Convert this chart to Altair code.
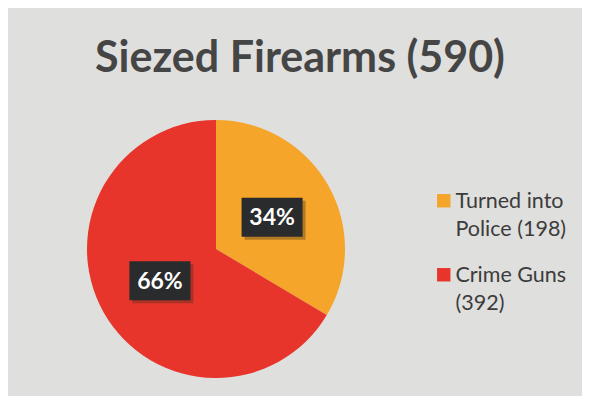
import altair as alt
import pandas as pd

# ---- data ----
categories = ["Turned into Police (198)", "Crime Guns (392)"]
counts = [198, 392]
percent_labels = ["34%", "66%"]
order = [1, 2]
colors = ["#f5a52a", "#e7352b"]

df = pd.DataFrame({
    "category": categories,
    "count": counts,
    "pct": percent_labels,
    "order": order,
})

R = 129  # pie radius in px
VIEW = 2 * R

color_scale = alt.Scale(domain=categories, range=colors)

legend_expr = (
    "datum.label == 'Turned into Police (198)' ? ['Turned into', 'Police (198)'] : "
    "['Crime Guns', '(392)']"
)

base = alt.Chart(df)

pie = base.mark_arc(outerRadius=R, stroke=None).encode(
    theta=alt.Theta("count:Q", stack=True),
    color=alt.Color(
        "category:N",
        scale=color_scale,
        sort=categories,
        legend=alt.Legend(
            title=None,
            orient="none",
            legendX=346,
            legendY=70,
            symbolType="square",
            symbolSize=180,
            symbolStrokeWidth=0,
            labelFont="Lato",
            labelFontSize=21.5,
            labelColor="#3c3c3c",
            labelLimit=300,
            labelExpr=legend_expr,
            labelBaseline="alphabetic",
            labelOffset=1,
            rowPadding=23,
        ),
    ),
    order=alt.Order("order:Q"),
)

# label positions derived from cumulative angles of the data
pos = (
    base.transform_joinaggregate(total="sum(count)")
    .transform_window(cum="sum(count)", sort=[alt.SortField("order")])
    .transform_calculate(
        mid="(datum.cum - datum.count / 2) / datum.total * 2 * PI",
    )
    .transform_calculate(
        px="sin(datum.mid) * 0.5",
        py="cos(datum.mid) * 0.5",
    )
)

xs = alt.X("px:Q", scale=alt.Scale(domain=[-1, 1], nice=False, zero=False), axis=None)
ys = alt.Y("py:Q", scale=alt.Scale(domain=[-1, 1], nice=False, zero=False), axis=None)

box_path = "M-1,-0.64L1,-0.64L1,0.64L-1,0.64Z"

shadow = pos.mark_point(
    shape=box_path, filled=True, color="#3a2a1a", opacity=0.35, size=3721,
    xOffset=3, yOffset=3, strokeWidth=0,
).encode(x=xs, y=ys)

box = pos.mark_point(
    shape=box_path, filled=True, color="#2a2b2d", opacity=1, size=3721, strokeWidth=0,
).encode(x=xs, y=ys)

txt = pos.mark_text(
    font="Lato", fontSize=23, fontWeight="bold", color="#ffffff", baseline="middle",
    align="center", dy=1,
).encode(x=xs, y=ys, text="pct:N")

chart = (
    alt.layer(pie, shadow, box, txt)
    .properties(
        width=VIEW,
        height=VIEW,
        background="#dfdfdd",
        padding={"left": 79, "top": 112, "right": 237, "bottom": 18},
        autosize=alt.AutoSizeParams(type="none"),
        title=alt.TitleParams(
            "Siezed Firearms (590)",
            font="Lato",
            fontSize=43,
            fontWeight="bold",
            color="#454545",
            anchor="middle",
            dx=84,
            offset=39,
        ),
    )
    .configure(style={"guide-label": {"lineHeight": 28, "dy": 7}})
    .configure_view(stroke=None)
)

chart.save("out.html", embed_options={"renderer": "svg", "actions": False})
